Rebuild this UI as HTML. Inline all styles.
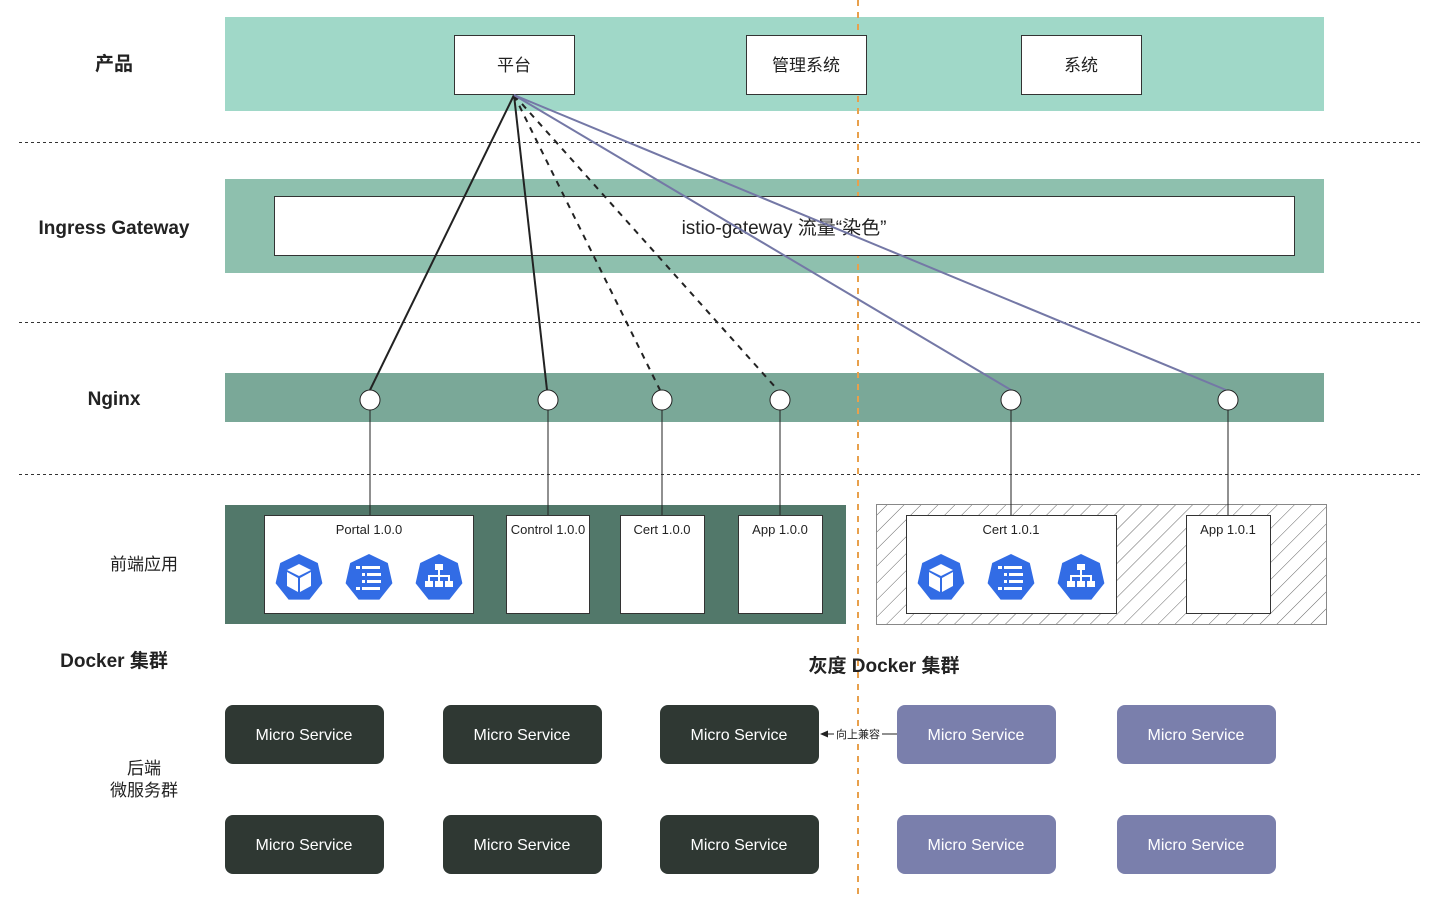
<!DOCTYPE html>
<html><head><meta charset="utf-8"><style>
html,body{margin:0;padding:0;background:#fff;}
svg{display:block;}
text{font-family:"Liberation Sans","Noto Sans CJK SC",sans-serif;}
</style></head><body>
<svg width="1448" height="898" viewBox="0 0 1448 898" xmlns="http://www.w3.org/2000/svg">
<defs>
<pattern id="hatch" patternUnits="userSpaceOnUse" width="12" height="12" patternTransform="rotate(45)">
<line x1="0" y1="0" x2="0" y2="12" stroke="#666" stroke-width="1"/>
</pattern>
<g id="hep"><polygon points="0,-24 18.8,-15 23.4,5.3 10.4,21.6 -10.4,21.6 -23.4,5.3 -18.8,-15" fill="#326ce5"/></g>
<g id="ic1"><use href="#hep"/><polygon points="0,-14 -12,-8 0,-2 12,-8" fill="#fff"/><polygon points="-12,-6 -1,0 -1,14 -12,8" fill="#fff"/><polygon points="12,-6 1,0 1,14 12,8" fill="#fff"/></g>
<g id="ic2"><use href="#hep"/><g fill="#fff"><rect x="-13" y="-12" width="4" height="3"/><rect x="-7" y="-12" width="18" height="3"/><rect x="-7" y="-5" width="3" height="3"/><rect x="-2" y="-5" width="14" height="3"/><rect x="-7" y="2" width="3" height="3"/><rect x="-2" y="2" width="14" height="3"/><rect x="-13" y="9" width="4" height="3"/><rect x="-7" y="9" width="18" height="3"/></g></g>
<g id="ic3"><use href="#hep"/><g fill="#fff"><rect x="-4" y="-14" width="8" height="6"/><rect x="-1" y="-8" width="2" height="5"/><rect x="-11" y="-3" width="22" height="2"/><rect x="-11" y="-3" width="2" height="6"/><rect x="9" y="-3" width="2" height="6"/><rect x="-1" y="-3" width="2" height="6"/><rect x="-14" y="3" width="8" height="6"/><rect x="-4" y="3" width="8" height="6"/><rect x="6" y="3" width="8" height="6"/></g></g>
</defs>

<!-- bands -->
<rect x="225" y="17" width="1099" height="94" fill="#a0d8c8"/>
<rect x="225" y="179" width="1099" height="94" fill="#8ec0ae"/>
<rect x="225" y="373" width="1099" height="49" fill="#7aa898"/>
<rect x="225" y="505" width="621" height="119" fill="#52786a"/>
<rect x="876.5" y="504.5" width="450" height="120" fill="url(#hatch)" stroke="#888" stroke-width="1"/>

<!-- horizontal dotted separators -->
<g stroke="#333" stroke-width="1" stroke-dasharray="3,3">
<line x1="19" y1="142.5" x2="1420" y2="142.5"/>
<line x1="19" y1="322.5" x2="1420" y2="322.5"/>
<line x1="19" y1="474.5" x2="1420" y2="474.5"/>
</g>

<!-- orange divider -->
<line x1="858" y1="0" x2="858" y2="898" stroke="#e8a04c" stroke-width="2" stroke-dasharray="6,6"/>

<!-- ingress white box -->
<rect x="274.5" y="196.5" width="1020" height="59" fill="#fff" stroke="#333"/>
<text x="784" y="234" font-size="19" text-anchor="middle" fill="#222">istio-gateway 流量“染色”</text>

<!-- top boxes -->
<g fill="#fff" stroke="#333">
<rect x="454.5" y="35.5" width="120" height="59"/>
<rect x="746.5" y="35.5" width="120" height="59"/>
<rect x="1021.5" y="35.5" width="120" height="59"/>
</g>
<g font-size="17" text-anchor="middle" fill="#222">
<text x="514" y="71">平台</text>
<text x="806" y="71">管理系统</text>
<text x="1081" y="71">系统</text>
</g>

<!-- connectors -->
<g stroke="#222" stroke-width="2" fill="none">
<line x1="514" y1="95" x2="370" y2="390"/>
<line x1="514" y1="95" x2="547" y2="390"/>
<line x1="514" y1="95" x2="660" y2="390" stroke-dasharray="6,6"/>
<line x1="514" y1="95" x2="776" y2="388" stroke-dasharray="6,6"/>
</g>
<g stroke="#7478a6" stroke-width="2" fill="none">
<line x1="514" y1="95" x2="1011" y2="390"/>
<line x1="514" y1="95" x2="1226" y2="390"/>
</g>
<g stroke="#222" stroke-width="1">
<line x1="370" y1="410" x2="370" y2="515"/>
<line x1="548" y1="410" x2="548" y2="515"/>
<line x1="662" y1="410" x2="662" y2="515"/>
<line x1="780" y1="410" x2="780" y2="515"/>
<line x1="1011" y1="410" x2="1011" y2="515"/>
<line x1="1228" y1="410" x2="1228" y2="515"/>
</g>
<g fill="#fff" stroke="#222" stroke-width="1">
<ellipse cx="370" cy="400" rx="10" ry="10"/>
<ellipse cx="548" cy="400" rx="10" ry="10"/>
<ellipse cx="662" cy="400" rx="10" ry="10"/>
<ellipse cx="780" cy="400" rx="10" ry="10"/>
<ellipse cx="1011" cy="400" rx="10" ry="10"/>
<ellipse cx="1228" cy="400" rx="10" ry="10"/>
</g>

<!-- frontend boxes -->
<g fill="#fff" stroke="#333">
<rect x="264.5" y="515.5" width="209" height="98"/>
<rect x="506.5" y="515.5" width="83" height="98"/>
<rect x="620.5" y="515.5" width="84" height="98"/>
<rect x="738.5" y="515.5" width="84" height="98"/>
<rect x="906.5" y="515.5" width="210" height="98"/>
<rect x="1186.5" y="515.5" width="84" height="98"/>
</g>
<g font-size="13" text-anchor="middle" fill="#222">
<text x="369" y="534">Portal 1.0.0</text>
<text x="548" y="534">Control 1.0.0</text>
<text x="662" y="534">Cert 1.0.0</text>
<text x="780" y="534">App 1.0.0</text>
<text x="1011" y="534">Cert 1.0.1</text>
<text x="1228" y="534">App 1.0.1</text>
</g>
<use href="#ic1" x="299" y="578"/>
<use href="#ic2" x="369" y="578"/>
<use href="#ic3" x="439" y="578"/>
<use href="#ic1" x="941" y="578"/>
<use href="#ic2" x="1011" y="578"/>
<use href="#ic3" x="1081" y="578"/>

<!-- left labels -->
<g fill="#222" text-anchor="middle">
<text x="114" y="70" font-size="19" font-weight="bold">产品</text>
<text x="114" y="234" font-size="19" font-weight="bold">Ingress Gateway</text>
<text x="114" y="405" font-size="19" font-weight="bold">Nginx</text>
<text x="144" y="570" font-size="17">前端应用</text>
<text x="114" y="667" font-size="19" font-weight="bold">Docker 集群</text>
<text x="884" y="672" font-size="19" font-weight="bold">灰度 Docker 集群</text>
<text x="144" y="774" font-size="17">后端</text>
<text x="144" y="796" font-size="17">微服务群</text>
</g>

<!-- micro services -->
<g>
<rect x="225" y="705" width="159" height="59" rx="8" fill="#2f3833"/>
<rect x="443" y="705" width="159" height="59" rx="8" fill="#2f3833"/>
<rect x="660" y="705" width="159" height="59" rx="8" fill="#2f3833"/>
<rect x="897" y="705" width="159" height="59" rx="8" fill="#7a7fac"/>
<rect x="1117" y="705" width="159" height="59" rx="8" fill="#7a7fac"/>
<rect x="225" y="815" width="159" height="59" rx="8" fill="#2f3833"/>
<rect x="443" y="815" width="159" height="59" rx="8" fill="#2f3833"/>
<rect x="660" y="815" width="159" height="59" rx="8" fill="#2f3833"/>
<rect x="897" y="815" width="159" height="59" rx="8" fill="#7a7fac"/>
<rect x="1117" y="815" width="159" height="59" rx="8" fill="#7a7fac"/>
</g>
<g font-size="16" text-anchor="middle" fill="#fff">
<text x="304" y="740">Micro Service</text>
<text x="522" y="740">Micro Service</text>
<text x="739" y="740">Micro Service</text>
<text x="976" y="740">Micro Service</text>
<text x="1196" y="740">Micro Service</text>
<text x="304" y="850">Micro Service</text>
<text x="522" y="850">Micro Service</text>
<text x="739" y="850">Micro Service</text>
<text x="976" y="850">Micro Service</text>
<text x="1196" y="850">Micro Service</text>
</g>

<!-- 向上兼容 arrow -->
<line x1="826" y1="734" x2="834" y2="734" stroke="#222" stroke-width="1"/>
<line x1="882" y1="734" x2="897" y2="734" stroke="#222" stroke-width="1"/>
<polygon points="820,734 828,730.5 828,737.5" fill="#222"/>
<rect x="834" y="727" width="48" height="14" fill="#fff"/>
<text x="858" y="738" font-size="11" text-anchor="middle" fill="#222">向上兼容</text>
</svg>
</body></html>
